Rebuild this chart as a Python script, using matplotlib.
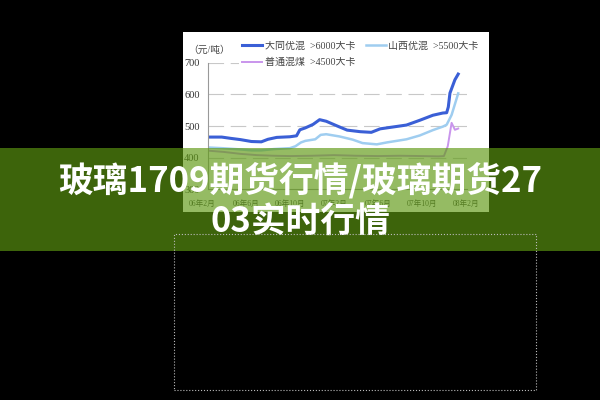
import matplotlib
matplotlib.use('Agg')
import matplotlib.pyplot as plt
from matplotlib.patches import Rectangle

# month index, 0 = 2006-02
blue_months = [0.6, 1.8, 2.6, 3.5, 4.5, 5.4, 6.0, 6.8, 8.0, 8.6, 8.9, 9.4, 10.1, 10.7, 11.3,
               12.3, 13.2, 14.4, 15.4, 16.2, 17.4, 18.6, 19.8, 21.0, 21.9, 22.25, 22.4, 22.55, 23.0, 23.3]
blue_vals = [465, 465, 461, 457, 451, 450, 458, 464, 466, 469, 488, 494, 505, 520, 515,
             500, 487, 482, 480, 491, 497, 503, 518, 534, 541, 542, 560, 604, 646, 664]

lblue_months = [0.6, 1.8, 3.5, 4.5, 5.4, 6.5, 8.0, 8.5, 9.0, 9.4, 10.3, 10.8, 11.3, 12.5,
                13.7, 14.6, 15.9, 16.8, 18.6, 19.8, 21.0, 21.9, 22.25, 22.7, 23.3]
lblue_vals = [432, 430, 426, 423, 423, 427, 430, 436, 448, 453, 458, 472, 474, 467,
              457, 446, 442, 448, 458, 470, 487, 498, 504, 535, 603]

purple_months = [0.6, 2.0, 3.5, 5.0, 6.5, 8.0, 10.0, 12.0, 14.0, 16.0, 18.0, 20.0, 21.5,
                 22.0, 22.35, 22.7, 23.0, 23.3]
purple_vals = [422, 418, 412, 408, 406, 405, 406, 408, 406, 405, 406, 405, 404,
               405, 436, 510, 488, 492]

series_names = ['大同优混  >6000大卡', '山西优混  >5500大卡', '普通混煤  >4500大卡']
x_labels = ['06年2月', '06年6月', '06年10月', '07年2月', '07年6月', '07年10月', '08年2月']
x_label_months = [0, 4, 8, 12, 16, 20, 24]
y_ticks = [300, 400, 500, 600, 700]

title_line1 = '玻璃1709期货行情/玻璃期货27'
title_line2 = '03实时行情'

W, H = 600, 400
small_font = ['Liberation Serif', 'Noto Sans CJK SC']

fig = plt.figure(figsize=(6, 4), dpi=100, facecolor='black')

# white box of the embedded chart picture
fig.patches.append(Rectangle((183 / W, 1 - 212 / H), 306 / W, 180 / H,
                             transform=fig.transFigure, facecolor='white',
                             edgecolor='none', zorder=-1))

ax = fig.add_axes([208 / W, 1 - 189.3 / H, 259 / W, 126.6 / H])
ax.set_facecolor('white')
ax.plot(blue_months, blue_vals, color='#3a5fd6', lw=2.2, label=series_names[0])
ax.plot(lblue_months, lblue_vals, color='#9fcdf0', lw=1.8, label=series_names[1])
ax.plot(purple_months, purple_vals, color='#c995ec', lw=1.4, label=series_names[2])
ax.set_xlim(0.55, 24.1)
ax.set_ylim(300, 700)
ax.set_yticks(y_ticks)
ax.set_yticklabels([str(v) for v in y_ticks], family=small_font, fontsize=7.5, color='#333333')
ax.set_xticks([])
ax.tick_params(axis='y', length=0, pad=6)
for y in y_ticks[1:]:
    ax.axhline(y, color='#c8c8c8', lw=0.8, ls=(0, (14, 6)), zorder=0)
for s in ['top', 'right']:
    ax.spines[s].set_visible(False)
for s in ['left', 'bottom']:
    ax.spines[s].set_color('#999999')
    ax.spines[s].set_linewidth(0.8)

for m, lab in zip(x_label_months, x_labels):
    ax.text(m, -0.118, lab, transform=ax.get_xaxis_transform(), ha='center', va='center',
            fontsize=5.5, color='#444444', family=small_font, clip_on=False)

fig.text(188 / W, 1 - 50 / H, '（元/吨）', ha='left', va='center', fontsize=7,
         color='#444444', family=small_font)

# legend: two on the first row, one on the second
handles, labels = ax.get_legend_handles_labels()
order = [0, 2, 1]
leg = ax.legend([handles[i] for i in order], [labels[i] for i in order], ncol=2,
                loc='upper left', bbox_to_anchor=(234 / W, 1 - 33 / H),
                bbox_transform=fig.transFigure, frameon=True, fancybox=False,
                framealpha=1, facecolor='white', edgecolor='none',
                prop={'family': small_font, 'size': 7.2}, handlelength=2.0,
                handletextpad=0.3, columnspacing=1.0, labelspacing=0.75, borderpad=0.3)
for t in leg.get_texts():
    t.set_color('#444444')

# translucent green banner over the picture
fig.patches.append(Rectangle((0, 1 - 251 / H), 1, 103 / H, transform=fig.transFigure,
                             facecolor=(0.37, 0.6, 0.07), alpha=0.66, edgecolor='none', zorder=5))

fig.text(0.5, 1 - 180 / H, title_line1, ha='center', va='center', fontsize=25,
         fontweight='bold', color='white', family=['Noto Sans CJK SC'], zorder=10)
fig.text(0.5, 1 - 222 / H, title_line2, ha='center', va='center', fontsize=25,
         fontweight='bold', color='white', family=['Noto Sans CJK SC'], zorder=10)

# dotted frame below
fig.patches.append(Rectangle((174 / W, 1 - 390 / H), 362 / W, 156 / H, transform=fig.transFigure,
                             fill=False, edgecolor='#bbbbbb', lw=0.8, ls=':', zorder=11))

fig.savefig('out.png', dpi=100, facecolor='black')
